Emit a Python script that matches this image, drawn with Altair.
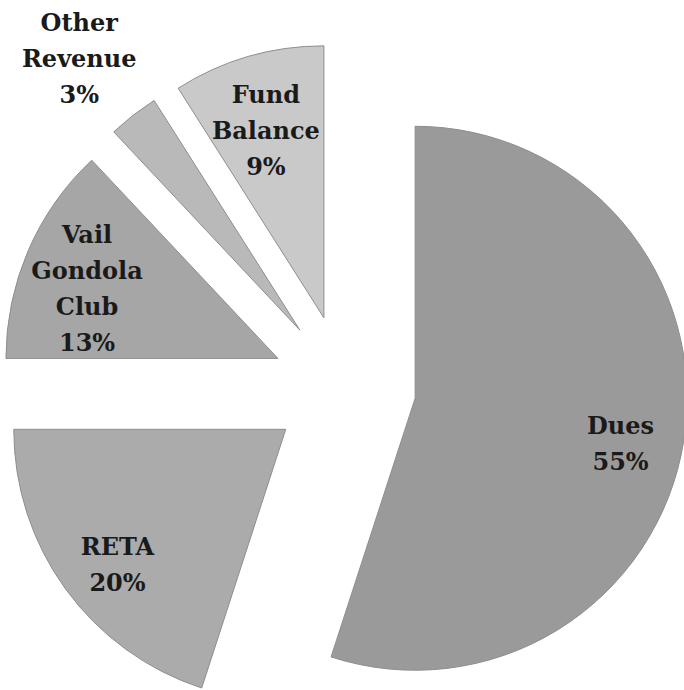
import altair as alt
import pandas as pd

# ---- data ----
categories = ["Dues", "RETA", "Vail Gondola Club", "Other Revenue", "Fund Balance"]
shares = [55, 20, 13, 3, 9]
fills = ["#9a9a9a", "#ababab", "#a6a6a6", "#b9b9b9", "#c9c9c9"]

# ---- layout / style ----
W, H = 684, 690
CX, CY = 344, 387      # pie centre in pixels
R = 272                # outer radius
EXPLODE = 72           # distance each slice is pulled out
LABEL_IN = 208         # label distance from slice apex (inside labels)
LABEL_OUT = 360        # label distance for tiny slices (outside)
LINE_H = 36

df = pd.DataFrame({"category": categories, "share": shares,
                   "order": list(range(len(categories)))})

base = (
    alt.Chart(df)
    .transform_window(cum="sum(share)", sort=[alt.SortField("order")], frame=[None, 0])
    .transform_joinaggregate(total="sum(share)")
    .transform_calculate(
        start="(datum.cum - datum.share) / datum.total * 2 * PI",
        end="datum.cum / datum.total * 2 * PI",
    )
    .transform_calculate(mid="(datum.start + datum.end) / 2")
    .transform_calculate(
        cx=f"{CX} + {EXPLODE} * sin(datum.mid)",
        cy=f"{CY} - {EXPLODE} * cos(datum.mid)",
        lr=f"datum.share < 5 ? {LABEL_OUT} : {LABEL_IN}",
        label="replace(datum.category, regexp(' ', 'g'), '\\n') + '\\n' + datum.share + '%'",
    )
    .transform_calculate(
        nlines="length(split(datum.label, '\\n'))",
    )
    .transform_calculate(
        lx="datum.cx + datum.lr * sin(datum.mid)",
        ly=f"datum.cy - datum.lr * cos(datum.mid) - (datum.nlines - 1) * {LINE_H} / 2",
    )
)

arcs = base.mark_arc(outerRadius=R, stroke="#8e8e8e", strokeWidth=1).encode(
    x=alt.X("cx:Q", scale=None, axis=None),
    y=alt.Y("cy:Q", scale=None, axis=None),
    theta=alt.Theta("start:Q", scale=None),
    theta2="end:Q",
    fill=alt.Fill("category:N", scale=alt.Scale(domain=categories, range=fills), legend=None),
)

labels = base.mark_text(
    font="DejaVu Serif", fontWeight="bold", fontSize=24, lineBreak="\n",
    lineHeight=LINE_H, align="center", baseline="middle", color="#1a1a1a", dy=14,
).encode(
    x=alt.X("lx:Q", scale=None, axis=None),
    y=alt.Y("ly:Q", scale=None, axis=None),
    text="label:N",
)

chart = (
    alt.layer(arcs, labels)
    .properties(width=W, height=H, padding=0, autosize="none", background="white")
    .configure_view(stroke=None)
)

chart.save("out.html", embed_options={"renderer": "svg", "actions": False})
